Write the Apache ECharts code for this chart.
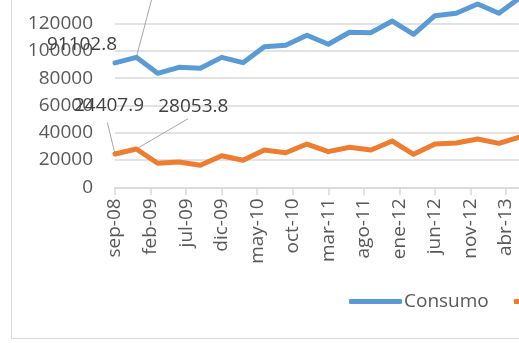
<!DOCTYPE html>
<html>
<head>
<meta charset="utf-8">
<script src="https://cdn.jsdelivr.net/npm/echarts@6/dist/echarts.min.js"></script>
<style>
html,body{margin:0;padding:0;width:519px;height:343px;overflow:hidden;background:#fff;position:relative}
#frame{position:absolute;left:11px;top:-60px;width:900px;height:399px;border:1px solid #d9d9d9;box-sizing:border-box}
#chart{position:absolute;left:0;top:-50px;width:800px;height:420px}
</style>
</head>
<body>
<div id="frame"></div>
<div id="chart"></div>
<script>
// ---- data ----
const monthNames = ['ene','feb','mar','abr','may','jun','jul','ago','sep','oct','nov','dic'];
const quarterDates = ['sep-08','dic-08','mar-09','jun-09','sep-09','dic-09','mar-10','jun-10','sep-10','dic-10',
                      'mar-11','jun-11','sep-11','dic-11','mar-12','jun-12','sep-12','dic-12','mar-13','jun-13'];
const consumo = [91102.8, 95200, 83500, 87900, 87200, 95200, 91300, 103000, 104000, 111400,
                 104800, 113600, 113300, 121800, 112100, 125700, 127500, 134300, 127500, 139000];
const serie2 = [24407.9, 28053.8, 17600, 18500, 16100, 23100, 19800, 27300, 25300, 31700,
                26100, 29300, 27300, 33900, 24200, 31700, 32500, 35400, 32200, 37000];
const seriesNames = ['Consumo', 'Exportaciones'];
const yTicks = [0, 20000, 40000, 60000, 80000, 100000, 120000, 140000, 160000];
const yTickLabels = ['0', '20000', '40000', '60000', '80000', '100000', '120000']; // visible in the picture

// monthly category axis sep-08 .. sep-13
const months = [];
for (let k = 0; k <= 60; k++) {
  const m = (8 + k) % 12;
  const y = 2008 + Math.floor((8 + k) / 12);
  months.push(monthNames[m] + '-' + String(y % 100).padStart(2, '0'));
}
const seriesVals = [consumo, serie2];
function toMonthly(vals) {
  const arr = months.map(() => null);
  quarterDates.forEach((d, i) => { arr[months.indexOf(d)] = vals[i]; });
  return arr;
}
// label styling: series -> quarterly index -> [dx, dy] label shift, [lx, ly] leader end (px from point) or null
const labelStyle = {
  0: {0: {shift: [-33, -4], leader: null}, 1: {shift: [25.5, -95], leader: [25.7, -97.3]}},
  1: {0: {shift: [-6, -34], leader: [-7.7, -31.6]}, 1: {shift: [57, -28], leader: [51.7, -30.3]}}
};
function withLabels(arr, si) {
  const idx = {};
  Object.keys(labelStyle[si]).forEach(q => { idx[months.indexOf(quarterDates[q])] = labelStyle[si][q]; });
  return arr.map((v, i) => idx[i] ? {value: v, label: {show: true}} : v);
}
function layoutFor(si) {
  const idx = {};
  Object.keys(labelStyle[si]).forEach(q => { idx[months.indexOf(quarterDates[q])] = labelStyle[si][q]; });
  return p => idx[p.dataIndex] ? {dx: idx[p.dataIndex].shift[0], dy: idx[p.dataIndex].shift[1]} : {};
}
// leader-line anchor points, taken from the data arrays
const leaders = [];
[0, 1].forEach(si => Object.keys(labelStyle[si]).forEach(q => {
  const st = labelStyle[si][q];
  if (st.leader) leaders.push([months.indexOf(quarterDates[q]), seriesVals[si][q], st.leader[0], st.leader[1]]);
}));

const font = 'Open Sans';
const fs = 19;
const chart = echarts.init(document.getElementById('chart'), null, {renderer: 'canvas'});
function lineSeries(name, vals, color, si) {
  return {
    name: name, type: 'line', data: withLabels(toMonthly(vals), si), connectNulls: true,
    showSymbol: true, symbol: 'circle', symbolSize: 0, itemStyle: {color: color},
    color: color, emphasis: {disabled: true}, z: 3,
    lineStyle: {width: 5, color: color, join: 'round', cap: 'round'},
    label: {show: false, position: 'top', fontFamily: font, fontSize: fs, color: '#404040'},
    labelLine: {show: false},
    labelLayout: layoutFor(si)
  };
}
chart.setOption({
  animation: false,
  backgroundColor: 'transparent',
  grid: {left: 115, top: 18.9, height: 218.4, width: 426.6, containLabel: false},
  legend: {
    left: 349, top: 342, padding: 0, width: 700, itemWidth: 53, itemHeight: 5, itemGap: 25,
    icon: 'roundRect',
    textStyle: {fontFamily: font, fontSize: fs, color: '#595959', padding: [0,0,0,-3]},
    data: seriesNames
  },
  xAxis: {
    type: 'category', data: months, boundaryGap: false,
    axisLine: {lineStyle: {color: '#d9d9d9', width: 1.5}},
    axisTick: {interval: 4, length: 8, lineStyle: {color: '#d9d9d9', width: 1.5}},
    axisLabel: {interval: 4, rotate: 90, margin: 11, fontFamily: font, fontSize: fs, color: '#595959'},
    splitLine: {show: false}
  },
  yAxis: {
    type: 'value', min: yTicks[0], max: yTicks[yTicks.length - 1], interval: yTicks[1] - yTicks[0],
    axisLine: {show: false}, axisTick: {show: false},
    axisLabel: {margin: 22, fontFamily: font, fontSize: fs, color: '#595959',
                formatter: v => yTickLabels.includes(String(v)) ? String(v) : ''},
    splitLine: {lineStyle: {color: '#d9d9d9', width: 1.5}}
  },
  series: [
    lineSeries(seriesNames[0], consumo, '#5b9bd5', 0),
    lineSeries(seriesNames[1], serie2, '#ed7d31', 1),
    {
      type: 'custom', name: 'leaders', data: leaders, z: 2, silent: true, clip: false,
      renderItem: (params, api) => {
        const a = api.coord([api.value(0), api.value(1)]);
        return {
          type: 'line',
          shape: {x1: a[0], y1: a[1], x2: a[0] + api.value(2), y2: a[1] + api.value(3)},
          style: {stroke: '#a6a6a6', lineWidth: 1}
        };
      }
    }
  ]
});
</script>
</body>
</html>
